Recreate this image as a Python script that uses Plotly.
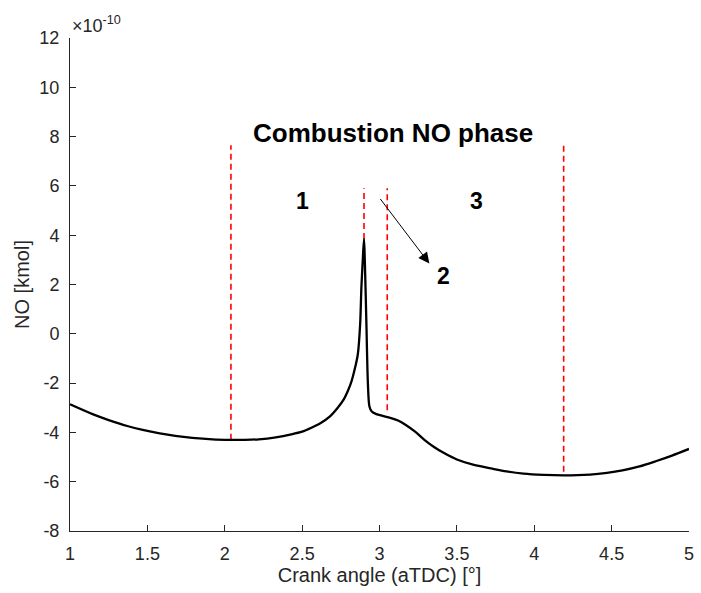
import plotly.graph_objects as go

# Crank angle (aTDC) [deg] and NO [kmol] (in units of 1e-10)
crank_angle = [1.00, 1.15, 1.25, 1.37, 1.47, 1.58, 1.68, 1.79, 1.92, 2.04, 2.13,
               2.22, 2.33, 2.43, 2.50, 2.56, 2.62, 2.68, 2.73, 2.77, 2.80, 2.82,
               2.845, 2.86, 2.875, 2.883, 2.892, 2.90,
               2.905, 2.915, 2.925, 2.935, 2.95, 2.98, 3.02, 3.07, 3.12, 3.17,
               3.23, 3.29, 3.35, 3.42, 3.50, 3.61, 3.72, 3.82, 3.93, 4.06, 4.19,
               4.36, 4.47, 4.57, 4.68, 4.785, 4.89, 5.00]
no_kmol = [-2.86, -3.27, -3.50, -3.74, -3.90, -4.04, -4.14, -4.22, -4.28, -4.30, -4.30,
           -4.28, -4.20, -4.08, -3.97, -3.81, -3.62, -3.35, -3.00, -2.65, -2.25, -1.91,
           -1.30, -0.83, 0.40, 1.88, 3.00, 3.85,
           3.00, 0.50, -2.00, -2.95, -3.15, -3.26, -3.33, -3.41, -3.52, -3.70,
           -3.97, -4.30, -4.58, -4.85, -5.10, -5.32, -5.46, -5.58, -5.67, -5.72, -5.74,
           -5.71, -5.64, -5.54, -5.38, -5.17, -4.94, -4.67]

# Phase boundary markers
boundary_x = [2.04, 2.90, 3.05, 4.19]
boundary_top = [7.65, 5.9, 5.9, 7.65]
boundary_bottom = [-4.3, 3.85, -3.1, -5.6]

x_ticks = [1, 1.5, 2, 2.5, 3, 3.5, 4, 4.5, 5]
y_ticks = [-8, -6, -4, -2, 0, 2, 4, 6, 8, 10, 12]

FONT = "Arial, 'Liberation Sans', sans-serif"
TXT = "#262626"

fig = go.Figure()

bx, by = [], []
for xv, t, b in zip(boundary_x, boundary_top, boundary_bottom):
    bx += [xv, xv, None]
    by += [b, t, None]
fig.add_trace(go.Scatter(x=bx, y=by, mode="lines",
                         line=dict(color="#ff0000", width=1.6, dash="6px,4px"),
                         hoverinfo="skip", showlegend=False))

fig.add_trace(go.Scatter(x=crank_angle, y=no_kmol, mode="lines",
                         line=dict(color="black", width=2.3, shape="spline", smoothing=0.8),
                         showlegend=False))

ann = [
    dict(x=3.09, y=8.15, text="<b>Combustion NO phase</b>", size=26),
    dict(x=2.50, y=5.4, text="<b>1</b>", size=23),
    dict(x=3.627, y=5.4, text="<b>3</b>", size=23),
    dict(x=3.413, y=2.35, text="<b>2</b>", size=23),
]
for a in ann:
    fig.add_annotation(x=a["x"], y=a["y"], xref="x", yref="y", text=a["text"],
                       showarrow=False, font=dict(family=FONT, size=a["size"], color="black"),
                       xanchor="center", yanchor="middle")

fig.add_annotation(x=3.322, y=2.85, ax=2.986, ay=5.63, xref="x", yref="y",
                   axref="x", ayref="y", text=" ", showarrow=True,
                   arrowhead=2, arrowsize=2.2, arrowwidth=1, arrowcolor="black")

fig.add_annotation(x=0, y=1, xref="paper", yref="paper", xanchor="left", yanchor="bottom",
                   text="×10<sup>-10</sup>", showarrow=False, xshift=0, yshift=0,
                   font=dict(family=FONT, size=18, color=TXT))

axis_common = dict(showgrid=False, zeroline=False, showline=True, linecolor="#262626",
                   linewidth=1, ticks="inside", ticklen=6, tickcolor="#262626",
                   tickfont=dict(family=FONT, size=18, color=TXT), mirror=False)

fig.update_xaxes(range=[1, 5], tickvals=x_ticks, ticktext=[f"{v:g}" for v in x_ticks],
                 title=dict(text="Crank angle (aTDC) [°]", font=dict(family=FONT, size=20, color=TXT), standoff=4),
                 ticklabelstandoff=6, **axis_common)
fig.update_yaxes(range=[-8, 12], tickvals=y_ticks, ticktext=[f"{v:g}" for v in y_ticks],
                 title=dict(text="NO [kmol]", font=dict(family=FONT, size=20, color=TXT), standoff=4),
                 ticklabelstandoff=6, **axis_common)

fig.update_layout(width=701, height=593, margin=dict(l=70, r=7, t=38, b=62),
                  plot_bgcolor="white", paper_bgcolor="white",
                  font=dict(family=FONT, color=TXT))

fig.write_html("out.html")
